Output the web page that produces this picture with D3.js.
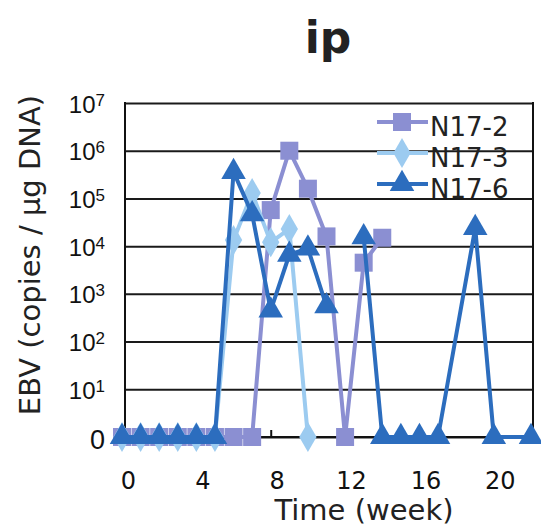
<!DOCTYPE html>
<html>
<head>
<meta charset="utf-8">
<script src="https://cdn.jsdelivr.net/npm/d3@7"></script>
<style>
  body { margin: 0; background: #fff; }
  svg { display: block; font-family: "DejaVu Sans", Verdana, sans-serif; }
  .grid .domain { display: none; }
  .grid .tick line { stroke: #1a1a1a; stroke-width: 2; }
</style>
</head>
<body>
<svg width="541" height="526"></svg>
<script>
// data; 0 copies is drawn on the lowest (10^0) line
const weeksN172 = [0, 1, 2, 3, 4, 5, 6, 7, 8, 9, 10, 11, 12, 13, 14];
const valuesN172 = [0, 0, 0, 0, 0, 0, 0, 0, 5.7e4, 1e6, 1.6e5, 1.6e4, 0, 4.5e3, 1.5e4];

const weeksN173 = [0, 1, 2, 3, 4, 5, 6, 7, 8, 9, 10];
const valuesN173 = [0, 0, 0, 0, 0, 0, 1.35e4, 1.3e5, 1.2e4, 2.3e4, 0];

const weeksN176 = [0, 1, 2, 3, 4, 5, 6, 7, 8, 9, 10, 11, 12, 13, 14, 15, 16, 17, 19, 20, 22];
const valuesN176 = [0, 0, 0, 0, 0, 0, 3.6e5, 4.7e4, 4.5e2, 6.6e3, 9e3, 5.5e2, null, 1.55e4, 0, 0, 0, 0, 2.4e4, 0, 0];

const seriesNames = ['N17-2', 'N17-3', 'N17-6'];
const xTicks = [0, 4, 8, 12, 16, 20];
const yTicks = [1, 1e1, 1e2, 1e3, 1e4, 1e5, 1e6, 1e7];

const colors = ['#8b8fd2', '#9ccbf0', '#2c6dbe'];
const shapes = [d3.symbolSquare, d3.symbolDiamond, d3.symbolTriangle];

const svg = d3.select('svg');
const plotLeft = 125, plotRight = 533, plotTop = 103, plotBottom = 437;

const x = d3.scaleLinear().domain([0, 22]).range([122, 531]);
const y = d3.scaleLog().domain([1, 1e7]).range([plotBottom, plotTop]);
const yv = (v) => y(v === 0 ? 1 : v);

// title
svg.append('text')
  .attr('x', 328).attr('y', 53)
  .attr('text-anchor', 'middle')
  .style('font-size', '44px').style('font-weight', 'bold')
  .attr('fill', '#222')
  .text('ip');

// gridlines + y labels
const yAxis = d3.axisLeft(y).tickValues(yTicks).tickSizeInner(-(plotRight - plotLeft)).tickSizeOuter(0);
const yG = svg.append('g').attr('class', 'grid')
  .attr('transform', `translate(${plotLeft},0)`)
  .call(yAxis);
yG.selectAll('.tick text').remove();
yG.selectAll('.tick').each(function (d) {
  const t = d3.select(this).append('text')
    .attr('x', -20).attr('y', 9)
    .attr('text-anchor', 'end')
    .attr('fill', '#111');
  if (d === 1) {
    t.style('font-size', '27px').attr('y', 11).text('0');
  } else {
    t.append('tspan').style('font-size', '24px').text('10');
    t.append('tspan').style('font-size', '17px').attr('dy', -7).text(Math.round(Math.log10(d)));
  }
});

// frame: y axis line, right border, x axis
svg.append('line').attr('x1', plotLeft).attr('x2', plotLeft).attr('y1', plotTop - 1).attr('y2', plotBottom + 1)
  .attr('stroke', '#111').attr('stroke-width', 2);
svg.append('line').attr('x1', plotRight).attr('x2', plotRight).attr('y1', plotTop - 1).attr('y2', plotBottom + 1)
  .attr('stroke', '#111').attr('stroke-width', 2);

const xAxis = d3.axisBottom(x).tickValues(xTicks).tickSizeInner(-7).tickSizeOuter(0).tickPadding(35);
const xG = svg.append('g')
  .attr('transform', `translate(0,${plotBottom})`)
  .call(xAxis);
xG.select('.domain').attr('d', `M${plotLeft},0H${plotRight}`).attr('stroke', '#111').attr('stroke-width', 2);
xG.selectAll('.tick line').attr('stroke', '#111').attr('stroke-width', 2);
xG.selectAll('.tick text')
  .attr('dx', 6)
  .attr('fill', '#111')
  .style('font-size', '24px')
  .style('font-family', '"DejaVu Sans", sans-serif');

// axis titles
svg.append('text')
  .attr('x', 364).attr('y', 520)
  .attr('text-anchor', 'middle')
  .style('font-size', '29px')
  .attr('fill', '#222')
  .text('Time (week)');
svg.append('text')
  .attr('transform', 'translate(40,255) rotate(-90)')
  .attr('text-anchor', 'middle')
  .style('font-size', '29px')
  .attr('fill', '#222')
  .text('EBV (copies / µg DNA)');

// series
const series = [
  { weeks: weeksN172, values: valuesN172 },
  { weeks: weeksN173, values: valuesN173 },
  { weeks: weeksN176, values: valuesN176 },
].map((s, i) => ({
  name: seriesNames[i],
  color: colors[i],
  shape: shapes[i],
  points: s.weeks.map((w, j) => ({ week: w, value: s.values[j] })),
}));

const line = d3.line()
  .defined((d) => d.value !== null)
  .x((d) => x(d.week))
  .y((d) => yv(d.value));

const symbolSize = [324, 260, 260];

series.forEach((s, i) => {
  const g = svg.append('g').attr('class', 'series');
  g.append('path')
    .datum(s.points)
    .attr('d', line)
    .attr('fill', 'none')
    .attr('stroke', s.color)
    .attr('stroke-width', 4)
    .attr('stroke-linejoin', 'round');
  g.selectAll('path.marker')
    .data(s.points.filter((d) => d.value !== null))
    .enter()
    .append('path')
    .attr('class', 'marker')
    .attr('transform', (d) => `translate(${x(d.week)},${yv(d.value)})`)
    .attr('d', d3.symbol().type(s.shape).size(symbolSize[i]))
    .attr('fill', s.color);
});

// legend
const legend = svg.append('g').attr('transform', 'translate(377,122)');
series.forEach((s, i) => {
  const row = legend.append('g').attr('transform', `translate(0,${i * 31})`);
  row.append('line').attr('x1', 0).attr('x2', 51).attr('y1', 0).attr('y2', 0)
    .attr('stroke', s.color).attr('stroke-width', 4);
  row.append('path')
    .attr('transform', 'translate(25,0)')
    .attr('d', d3.symbol().type(s.shape).size(symbolSize[i]))
    .attr('fill', s.color);
  row.append('text')
    .attr('x', 53).attr('y', 14)
    .style('font-size', '26px')
    .attr('fill', '#222')
    .text(s.name);
});
</script>
</body>
</html>
